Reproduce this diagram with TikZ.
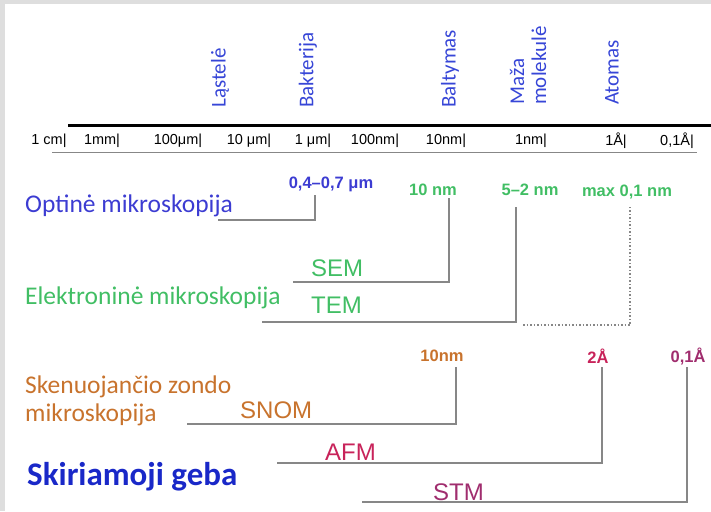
\documentclass[tikz,border=0pt]{standalone}
\usepackage{fontspec}
\setmainfont{Carlito}
\newfontfamily\scalefont[Ligatures=TeX]{Liberation Sans}
\definecolor{objblue}{RGB}{55,70,215}
\definecolor{optblue}{RGB}{60,60,210}
\definecolor{gebablue}{RGB}{25,40,200}
\definecolor{elgreen}{RGB}{65,190,100}
\definecolor{zorange}{RGB}{200,115,45}
\definecolor{afmred}{RGB}{200,35,90}
\definecolor{stmpurple}{RGB}{160,45,110}
\definecolor{linegray}{RGB}{135,135,135}
\definecolor{framegray}{RGB}{222,222,222}
\begin{document}
\begin{tikzpicture}[x=1pt,y=-1pt,
  lbl/.style={inner sep=0pt,anchor=west},
  big/.style={lbl,font=\fontsize{25.5}{28}\selectfont},
  acro/.style={lbl,font=\scalefont\fontsize{24}{24}\selectfont},
  obj/.style={lbl,rotate=90,align=left,text=objblue,font=\fontsize{21}{22}\selectfont},
  tick/.style={inner sep=0pt,font=\scalefont\fontsize{14.5}{14.5}\selectfont},
  res/.style={inner sep=0pt,font=\scalefont\bfseries\fontsize{16.5}{16.5}\selectfont},
  bracket/.style={draw=linegray,line width=1.5pt}]
\useasboundingbox (0,0) rectangle (711,511);
\fill [framegray] (0,0) rectangle (711,4);
\fill [framegray] (0,0) rectangle (5,511);
% scale
\draw [line width=3pt] (68,125) -- (711,125);
\draw [linegray,line width=1pt] (52,152) -- (697,152);
\node [tick] (s1) at (49,141) {1 cm|};
\node [tick] (s2) at (102,141) {1mm|};
\node [tick] (s3) at (178,141) {100μm|};
\node [tick] (s4) at (249,141) {10 μm|};
\node [tick] (s5) at (313,141) {1 μm|};
\node [tick] (s6) at (375,141) {100nm|};
\node [tick] (s7) at (446,141) {10nm|};
\node [tick] (s8) at (531,141) {1nm|};
\node [tick] (s9) at (616,141) {1Å|};
\node [tick] (s10) at (677,141) {0,1Å|};
% objects
\node [obj] (lastele) at (220,108) {Ląstelė};
\node [obj] (bakterija) at (308,108) {Bakterija};
\node [obj] (baltymas) at (450,108) {Baltymas};
\node [obj] (molekule) at (528,105) {Maža\\molekulė};
\node [obj] (atomas) at (612,105) {Atomas};
% optine
\node [big,text=optblue] (optine) at (25,206) {Optinė mikroskopija};
\node [res,text=optblue] (optres) at (331,184) {0,4–0,7 μm};
\coordinate (optL) at (218,220);
\coordinate (optT) at (315,195);
\draw [bracket] (optL) -| (optT);
% elektronine
\node [big,text=elgreen] (elektr) at (25,298) {Elektroninė mikroskopija};
\node [res,text=elgreen] (semres) at (433,190) {10 nm};
\node [res,text=elgreen] (temres) at (530,190) {5–2 nm};
\node [res,text=elgreen] (maxres) at (627,192) {max 0,1 nm};
\node [acro,text=elgreen] (sem) at (311,268) {SEM};
\node [acro,text=elgreen] (tem) at (311,305) {TEM};
\coordinate (semL) at (293,282);
\coordinate (semT) at (449,198);
\coordinate (temL) at (262,322);
\coordinate (temT) at (516,207);
\coordinate (maxL) at (523,325);
\coordinate (maxT) at (630,205);
\draw [bracket] (semL) -| (semT);
\draw [bracket] (temL) -| (temT);
\draw [linegray,line width=1.5pt,dotted] (maxL) -| (maxT);
% zondine
\node [big,text=zorange,align=left] (zond) at (25,401) {Skenuojančio zondo\\mikroskopija};
\node [res,text=zorange] (snomres) at (442,356) {10nm};
\node [res,text=afmred] (afmres) at (598,356) {2Å};
\node [res,text=stmpurple] (stmres) at (688,356) {0,1Å};
\node [acro,text=zorange] (snom) at (240,410) {SNOM};
\node [acro,text=afmred] (afm) at (325,452) {AFM};
\node [acro,text=stmpurple] (stm) at (433,492) {STM};
\node [lbl,text=gebablue,font=\bfseries\fontsize{33}{33}\selectfont] (geba) at (27,477) {Skiriamoji geba};
\coordinate (snomL) at (187,424);
\coordinate (snomT) at (456,367);
\coordinate (afmL) at (277,463);
\coordinate (afmT) at (602,367);
\coordinate (stmL) at (362,502);
\coordinate (stmT) at (687,367);
\draw [bracket] (snomL) -| (snomT);
\draw [bracket] (afmL) -| (afmT);
\draw [bracket] (stmL) -| (stmT);
\end{tikzpicture}
\end{document}
